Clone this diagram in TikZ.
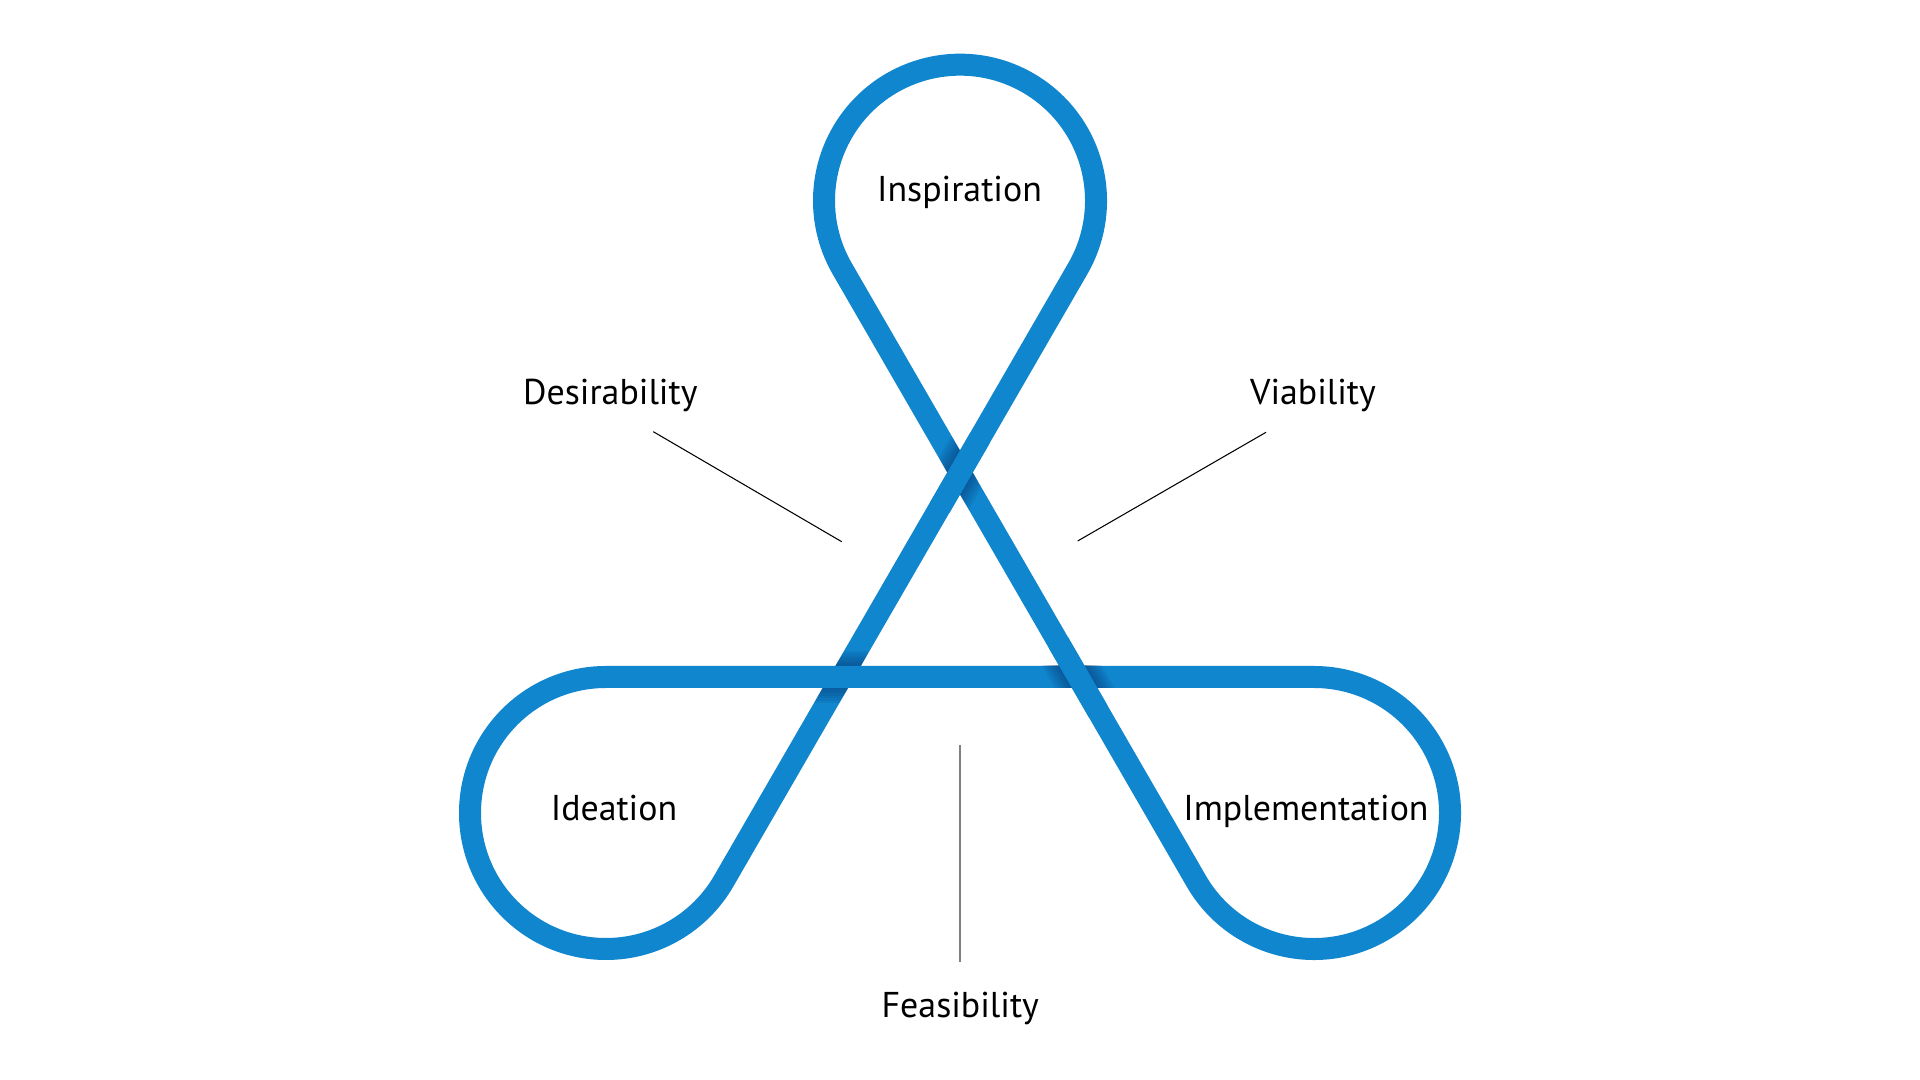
\documentclass[tikz,border=0pt]{standalone}
\usepackage{fontspec}
\setmainfont{PT Sans}
\usepackage{tikz}
\usetikzlibrary{calc}
\definecolor{loopblue}{RGB}{16,134,206}
\definecolor{loopshade}{RGB}{6,52,110}

\begin{document}
\begin{tikzpicture} [x=0.01cm, y=-0.01cm,
                loop/.style = {draw=loopblue, line width=0.22cm, line cap=butt},
                lbl/.style = {anchor=base, inner sep=0pt, font=\fontsize{10.2pt}{12pt}\selectfont},
                leader/.style = {draw=black, line width=0.3pt}
            ]
            \fill[white] (0,0) rectangle (1920,1080);
            % centres of the three loops
            \coordinate (c1) at (960,200.7);
            \coordinate (c2) at (606,813);
            \coordinate (c3) at (1314,813);
            % the ribbon
            \draw[loop] ($(c1)+(150:136)$) -- ($(c3)+(150:136)$) arc[start angle=150, end angle=-90, radius=136]
                -- ($(c2)+(-90:136)$) arc[start angle=-90, end angle=-330, radius=136]
                -- ($(c1)+(30:136)$) arc[start angle=30, end angle=-210, radius=136] -- cycle;
            % crossings: point / under angle / over angle
            \coordinate (x1) at (960,472.6);
            \coordinate (x2) at (1078.3,677);
            \coordinate (x3) at (841.7,677);
            \foreach \p/\ua/\oa in {x1/60/-60, x2/0/60, x3/-60/0} {
                \begin{scope}
                    \clip ($(\p)+({\ua}:60)+({\ua+90}:11)$) -- ($(\p)+({\ua}:60)+({\ua-90}:11)$)
                        -- ($(\p)+({\ua+180}:60)+({\ua-90}:11)$) -- ($(\p)+({\ua+180}:60)+({\ua+90}:11)$) -- cycle;
                    \foreach \k in {1,...,6}
                        \draw[loopshade, opacity=0.1, line width=0.22cm+\k*0.05cm] ($(\p)+({\oa}:60)$) -- ($(\p)+({\oa+180}:60)$);
                \end{scope}
                \draw[loop] ($(\p)+({\oa}:40)$) -- ($(\p)+({\oa+180}:40)$);
            }
            % labels
            \node (insp) at (959.5,201.7) [lbl] {Inspiration};
            \node (idea) at (614,820.3) [lbl] {Ideation};
            \node (impl) at (1306,820.7) [lbl] {Implementation};
            \node (desir) at (610.3,405) [lbl] {Desirability};
            \node (viab) at (1313,405) [lbl] {Viability};
            \node (feas) at (960.3,1018) [lbl] {Feasibility};
            % leader lines
            \coordinate (d1) at (653.3,431.7);
            \coordinate (d2) at (841.7,541.7);
            \coordinate (v1) at (1266,432.3);
            \coordinate (v2) at (1077.7,541);
            \coordinate (f1) at (960,745);
            \coordinate (f2) at (960,962.3);
            \draw[leader] (d1) -- (d2);
            \draw[leader] (v1) -- (v2);
            \draw[leader, draw=gray, line width=0.4pt] (f1) -- (f2);
        \end{tikzpicture}
\end{document}
